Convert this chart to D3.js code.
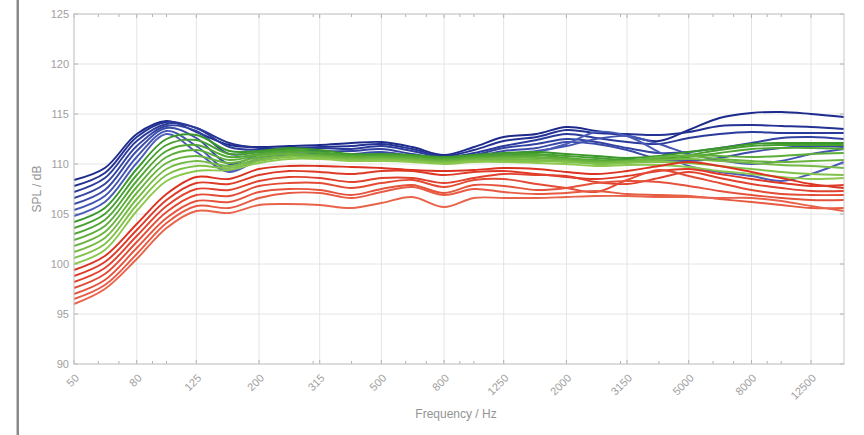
<!DOCTYPE html>
<html>
<head>
<meta charset="utf-8">
<script src="https://cdn.jsdelivr.net/npm/d3@7"></script>
<style>
  html, body { margin: 0; padding: 0; background: #fff; }
  text { font-family: "Liberation Sans", Arial, sans-serif; }
</style>
</head>
<body>
<svg id="chart" width="864" height="435"></svg>
<script>
// third-octave band centres (Hz)
const freqs = [50, 63, 80, 100, 125, 160, 200, 250, 315, 400, 500, 630, 800,
  1000, 1250, 1600, 2000, 2500, 3150, 4000, 5000, 6300, 8000, 10000, 12500, 16000];

const xTickValues = [50, 80, 125, 200, 315, 500, 800, 1250, 2000, 3150, 5000, 8000, 12500];
const xTickLabels = ['50', '80', '125', '200', '315', '500', '800', '1250', '2000', '3150', '5000', '8000', '12500'];
const xMinorTicks = [60, 70, 90, 100, 300, 400, 600, 700, 900, 1000, 3000, 4000, 6000, 7000, 9000, 10000];
const yTickValues = [90, 95, 100, 105, 110, 115, 120, 125];

// SPL curves in dB, one row per curve
const blue = [
  [108.4, 109.6, 113.0, 114.3, 113.2, 111.9, 111.7, 111.8, 111.9, 112.1, 112.2, 111.7, 110.9, 111.7, 112.7, 113.0, 113.7, 113.3, 112.8, 112.3, 113.4, 114.6, 115.1, 115.2, 115.0, 114.7],
  [107.8, 109.1, 112.7, 114.2, 113.6, 112.1, 111.6, 111.6, 111.7, 111.8, 112.0, 111.5, 110.8, 111.4, 112.3, 112.7, 113.4, 113.1, 113.0, 112.9, 113.2, 113.8, 113.9, 113.8, 113.7, 113.5],
  [107.2, 108.6, 112.3, 114.0, 113.6, 111.7, 111.4, 111.5, 111.6, 111.5, 111.8, 111.3, 110.7, 111.1, 111.8, 112.4, 113.0, 112.6, 112.2, 112.0, 112.6, 113.0, 113.2, 113.1, 113.1, 113.1],
  [106.6, 108.0, 111.8, 113.8, 113.3, 111.0, 111.2, 111.3, 111.3, 111.3, 111.5, 111.0, 110.6, 110.9, 111.6, 112.0, 112.5, 112.2, 111.6, 111.1, 111.2, 111.6, 112.1, 112.6, 112.7, 112.5],
  [106.0, 107.4, 111.3, 113.6, 112.6, 110.0, 110.9, 111.1, 111.0, 111.0, 111.2, 110.8, 110.5, 110.7, 111.3, 111.6, 112.2, 112.0, 111.4, 110.5, 110.3, 110.6, 111.2, 111.6, 111.8, 111.7],
  [105.4, 106.8, 110.7, 113.3, 111.8, 109.4, 110.6, 110.9, 110.9, 110.8, 111.0, 110.6, 110.4, 110.6, 111.0, 111.3, 111.8, 112.5, 112.8, 112.0, 111.0, 110.4, 110.0, 110.3, 111.0, 111.5],
  [104.8, 106.2, 110.1, 113.0, 111.2, 109.2, 110.4, 110.8, 110.8, 110.7, 110.9, 110.5, 110.3, 110.5, 110.8, 111.2, 112.0, 113.2, 112.8, 111.2, 109.8, 109.2, 108.8, 108.3, 109.0, 110.2]
];

const green = [
  [104.2, 105.6, 109.5, 112.5, 112.9, 111.3, 111.3, 111.6, 111.4, 111.0, 111.0, 110.9, 110.7, 110.9, 111.1, 111.2, 111.0, 110.8, 110.6, 110.8, 111.2, 111.6, 112.0, 112.1, 112.1, 112.1],
  [103.6, 105.0, 108.9, 111.9, 112.4, 111.0, 111.2, 111.4, 111.2, 110.9, 110.9, 110.8, 110.6, 110.8, 111.0, 111.0, 110.8, 110.6, 110.4, 110.5, 110.9, 111.4, 111.8, 111.9, 111.9, 111.9],
  [103.0, 104.4, 108.3, 111.3, 111.9, 110.7, 111.0, 111.3, 111.1, 110.8, 110.8, 110.7, 110.5, 110.7, 110.8, 110.9, 110.6, 110.4, 110.3, 110.4, 110.7, 111.1, 111.5, 111.6, 111.6, 111.5],
  [102.4, 103.8, 107.7, 110.7, 111.4, 110.4, 110.9, 111.1, 110.9, 110.7, 110.7, 110.6, 110.4, 110.6, 110.7, 110.7, 110.5, 110.3, 110.2, 110.6, 110.9, 110.8, 110.7, 110.8, 111.0, 111.1],
  [101.8, 103.2, 107.1, 110.1, 110.8, 110.1, 110.7, 111.0, 110.8, 110.6, 110.6, 110.5, 110.3, 110.5, 110.6, 110.6, 110.4, 110.2, 110.3, 110.7, 110.8, 110.5, 110.3, 110.2, 110.3, 110.4],
  [101.2, 102.6, 106.5, 109.5, 110.3, 109.8, 110.5, 110.8, 110.7, 110.5, 110.5, 110.4, 110.2, 110.4, 110.5, 110.4, 110.3, 110.1, 110.2, 110.4, 110.5, 110.3, 110.1, 109.9, 109.8, 109.6],
  [100.6, 102.0, 105.9, 108.9, 109.8, 109.6, 110.3, 110.7, 110.6, 110.4, 110.4, 110.3, 110.1, 110.3, 110.3, 110.3, 110.2, 110.0, 110.1, 110.2, 110.1, 109.8, 109.5, 109.2, 109.0, 108.9],
  [100.0, 101.4, 105.3, 108.3, 109.3, 109.4, 110.1, 110.5, 110.5, 110.3, 110.3, 110.2, 110.0, 110.2, 110.2, 110.1, 110.0, 109.8, 109.9, 109.9, 109.7, 109.3, 109.0, 108.7, 108.5, 108.6]
];

const red = [
  [99.4, 100.8, 104.0, 107.0, 108.7, 108.5, 109.5, 109.8, 109.8, 109.7, 109.6, 109.4, 109.3, 109.4, 109.6, 109.5, 109.2, 109.0, 109.3, 109.8, 110.2, 109.8, 109.2, 108.6, 108.0, 107.6],
  [98.8, 100.2, 103.4, 106.4, 108.1, 108.0, 108.9, 109.3, 109.2, 109.0, 109.3, 109.3, 108.9, 109.2, 109.3, 109.0, 108.7, 108.5, 108.8, 109.3, 109.5, 109.0, 108.5, 108.1, 107.8, 107.9],
  [98.2, 99.6, 102.8, 105.8, 107.5, 107.4, 108.3, 108.7, 108.6, 108.2, 108.6, 108.6, 108.1, 108.6, 109.0, 108.9, 108.8, 108.2, 108.0, 108.6, 109.2, 108.6, 108.0, 107.6, 107.3, 107.3],
  [97.6, 99.0, 102.2, 105.2, 106.9, 106.8, 107.8, 108.1, 108.1, 107.6, 108.1, 108.4, 107.7, 108.4, 108.5, 108.0, 107.6, 107.2, 108.4, 109.4, 108.8, 108.1, 107.4, 107.0, 106.9, 106.9],
  [97.0, 98.4, 101.6, 104.6, 106.3, 106.2, 107.2, 107.5, 107.4, 106.9, 107.5, 107.9, 107.1, 107.9, 107.8, 107.4, 107.6, 108.1, 108.3, 108.2, 107.8, 107.3, 106.9, 106.6, 106.4, 106.4],
  [96.5, 97.9, 101.0, 104.1, 105.8, 105.6, 106.6, 107.1, 107.1, 106.6, 107.2, 107.7, 106.9, 107.5, 107.2, 107.0, 107.1, 107.3, 107.0, 106.9, 106.8, 106.5, 106.2, 105.9, 105.6, 105.6],
  [96.0, 97.5, 100.5, 103.6, 105.3, 105.1, 105.9, 106.0, 105.9, 105.6, 106.1, 106.7, 105.7, 106.6, 106.6, 106.6, 106.7, 106.8, 106.8, 106.7, 106.7, 106.6, 106.6, 106.3, 105.8, 105.3]
];

const svg = d3.select('#chart');
const margin = { top: 14, right: 20, bottom: 71, left: 74 };
const width = 864 - margin.left - margin.right;
const height = 435 - margin.top - margin.bottom;

// frame bar at the far left of the picture
svg.append('rect')
  .attr('x', 16.5).attr('y', 0)
  .attr('width', 2.5).attr('height', 435)
  .attr('fill', '#8a8a8a');

const x = d3.scaleLog()
  .domain([50, 16000])
  .range([0, width]);

const y = d3.scaleLinear()
  .domain([90, 125])
  .range([height, 0]);

const g = svg.append('g')
  .attr('transform', `translate(${margin.left},${margin.top})`);

// grid
g.append('g')
  .selectAll('line')
  .data(yTickValues)
  .join('line')
  .attr('x1', 0).attr('x2', width)
  .attr('y1', (d) => y(d)).attr('y2', (d) => y(d))
  .attr('stroke', '#e4e4e4');

g.append('g')
  .selectAll('line')
  .data(xTickValues)
  .join('line')
  .attr('x1', (d) => x(d)).attr('x2', (d) => x(d))
  .attr('y1', 0).attr('y2', height)
  .attr('stroke', '#e4e4e4');

// ticks, bottom and top, pointing inward
const allXTicks = xTickValues.concat(xMinorTicks);
[0, height].forEach((yy) => {
  const dir = yy === 0 ? 1 : -1;
  g.append('g')
    .selectAll('line')
    .data(allXTicks)
    .join('line')
    .attr('x1', (d) => x(d)).attr('x2', (d) => x(d))
    .attr('y1', yy).attr('y2', (d) => yy + dir * (xTickValues.includes(d) ? 4 : 3))
    .attr('stroke', '#b0b0b0');
});
[0, width].forEach((xx) => {
  const dir = xx === 0 ? 1 : -1;
  g.append('g')
    .selectAll('line')
    .data(yTickValues)
    .join('line')
    .attr('x1', xx).attr('x2', xx + dir * 4)
    .attr('y1', (d) => y(d)).attr('y2', (d) => y(d))
    .attr('stroke', '#b0b0b0');
});

// curves
const line = d3.line()
  .x((d, i) => x(freqs[i]))
  .y((d) => y(d))
  .curve(d3.curveCatmullRom.alpha(0.5));

const blueColor = d3.scaleLinear().domain([0, blue.length - 1]).range(['#1c2a8c', '#4a5cb8']);
const greenColor = d3.scaleLinear().domain([0, green.length - 1]).range(['#3a982a', '#8cc84e']);
const redColor = d3.scaleLinear().domain([0, red.length - 1]).range(['#dc3220', '#e9634a']);

const curves = g.append('g')
  .attr('fill', 'none')
  .attr('stroke-width', 1.9)
  .attr('stroke-linejoin', 'round');

curves.selectAll('path.blue')
  .data(blue)
  .join('path')
  .attr('class', 'blue')
  .attr('d', line)
  .attr('stroke', (d, i) => blueColor(i));

curves.selectAll('path.green')
  .data(green)
  .join('path')
  .attr('class', 'green')
  .attr('d', line)
  .attr('stroke', (d, i) => greenColor(i));

curves.selectAll('path.red')
  .data(red)
  .join('path')
  .attr('class', 'red')
  .attr('d', line)
  .attr('stroke', (d, i) => redColor(i));

// plot box
g.append('rect')
  .attr('width', width).attr('height', height)
  .attr('fill', 'none')
  .attr('stroke', '#c8c8c8');

// tick labels
g.append('g')
  .selectAll('text')
  .data(yTickValues)
  .join('text')
  .attr('x', -5)
  .attr('y', (d) => y(d))
  .attr('dy', '0.35em')
  .attr('text-anchor', 'end')
  .attr('font-size', 11)
  .attr('fill', '#a0a0a0')
  .text((d) => d);

g.append('g')
  .selectAll('text')
  .data(xTickValues)
  .join('text')
  .attr('transform', (d) => `translate(${x(d) + 3},${height + 12}) rotate(-45)`)
  .attr('dy', '0.35em')
  .attr('text-anchor', 'end')
  .attr('font-size', 11)
  .attr('fill', '#a0a0a0')
  .text((d, i) => xTickLabels[i]);

// axis titles
svg.append('text')
  .attr('x', margin.left + width / 2 - 3)
  .attr('y', 418)
  .attr('text-anchor', 'middle')
  .attr('font-size', 12)
  .attr('fill', '#939393')
  .text('Frequency / Hz');

svg.append('text')
  .attr('transform', `translate(41,${margin.top + height / 2}) rotate(-90)`)
  .attr('text-anchor', 'middle')
  .attr('font-size', 12)
  .attr('fill', '#939393')
  .text('SPL / dB');
</script>
</body>
</html>
